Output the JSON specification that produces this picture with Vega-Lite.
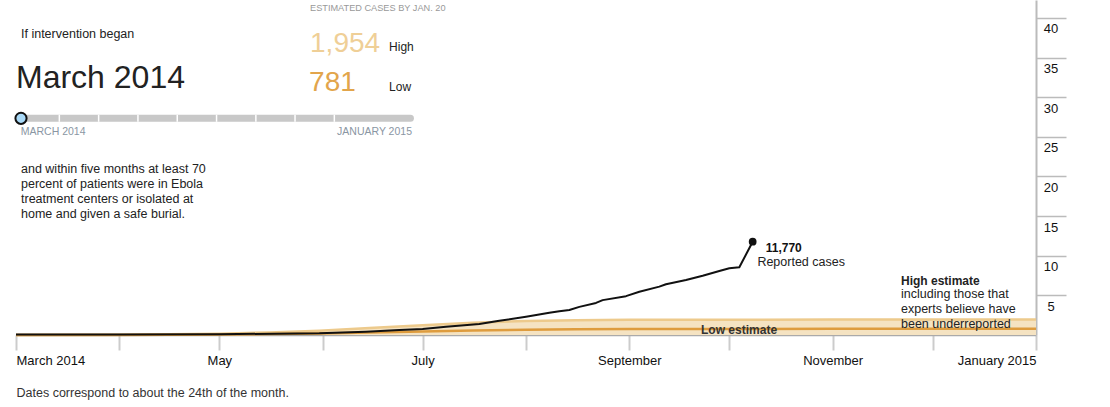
{
  "$schema": "https://vega.github.io/schema/vega-lite/v6.json",
  "width": 1020,
  "height": 335,
  "autosize": {"type": "none"},
  "padding": {"left": 16, "top": 0, "right": 74, "bottom": 72},
  "config": {"view": {"stroke": null}, "font": "Liberation Sans"},
  "data": {"values": [{}]},
  "datasets": {
    "estimates": [
      {"date": "2014-03-24", "high": 0, "low": 0},
      {"date": "2014-04-24", "high": 0.03, "low": 0.01},
      {"date": "2014-05-24", "high": 0.15, "low": 0.05},
      {"date": "2014-06-08", "high": 0.33, "low": 0.12},
      {"date": "2014-06-23", "high": 0.55, "low": 0.2},
      {"date": "2014-07-08", "high": 0.88, "low": 0.32},
      {"date": "2014-07-24", "high": 1.24, "low": 0.44},
      {"date": "2014-08-08", "high": 1.55, "low": 0.57},
      {"date": "2014-08-24", "high": 1.76, "low": 0.66},
      {"date": "2014-09-08", "high": 1.86, "low": 0.72},
      {"date": "2014-09-24", "high": 1.91, "low": 0.75},
      {"date": "2014-10-24", "high": 1.935, "low": 0.77},
      {"date": "2014-11-24", "high": 1.946, "low": 0.777},
      {"date": "2014-12-24", "high": 1.951, "low": 0.78},
      {"date": "2015-01-24", "high": 1.954, "low": 0.781}
    ],
    "reported": [
      {"date": "2014-03-24", "cases": 0.05},
      {"date": "2014-04-24", "cases": 0.07},
      {"date": "2014-05-24", "cases": 0.1},
      {"date": "2014-06-23", "cases": 0.22},
      {"date": "2014-07-07", "cases": 0.42},
      {"date": "2014-07-17", "cases": 0.63},
      {"date": "2014-07-24", "cases": 0.75},
      {"date": "2014-07-31", "cases": 1.05},
      {"date": "2014-08-10", "cases": 1.39},
      {"date": "2014-08-16", "cases": 1.8},
      {"date": "2014-08-24", "cases": 2.3},
      {"date": "2014-08-31", "cases": 2.8},
      {"date": "2014-09-03", "cases": 3.0},
      {"date": "2014-09-06", "cases": 3.15},
      {"date": "2014-09-09", "cases": 3.55},
      {"date": "2014-09-14", "cases": 4.05},
      {"date": "2014-09-16", "cases": 4.4},
      {"date": "2014-09-23", "cases": 4.9},
      {"date": "2014-09-27", "cases": 5.45},
      {"date": "2014-10-03", "cases": 6.1},
      {"date": "2014-10-05", "cases": 6.4},
      {"date": "2014-10-11", "cases": 6.94},
      {"date": "2014-10-16", "cases": 7.48},
      {"date": "2014-10-21", "cases": 8.08},
      {"date": "2014-10-24", "cases": 8.42},
      {"date": "2014-10-27", "cases": 8.54},
      {"date": "2014-10-31", "cases": 11.77}
    ],
    "sliderStops": [
      {"stop": "2014-04-06T00:00:00Z"},
      {"stop": "2014-04-17T19:00:00Z"},
      {"stop": "2014-04-29T14:00:00Z"},
      {"stop": "2014-05-11T09:00:00Z"},
      {"stop": "2014-05-23T04:00:00Z"},
      {"stop": "2014-06-03T23:00:00Z"},
      {"stop": "2014-06-15T17:00:00Z"},
      {"stop": "2014-06-27T12:00:00Z"}
    ]
  },
  "layer": [
    {
      "data": {"name": "estimates"},
      "mark": {"type": "area", "color": "#f5e3c2", "opacity": 1},
      "encoding": {
        "x": {
          "field": "date", "type": "temporal",
          "scale": {"type": "utc", "domain": [{"year": 2014, "month": 3, "date": 24, "utc": true}, {"year": 2015, "month": 1, "date": 24, "utc": true}]},
          "axis": {
            "orient": "bottom",
            "values": [
              {"year": 2014, "month": 3, "date": 24, "utc": true},
              {"year": 2014, "month": 4, "date": 24, "utc": true},
              {"year": 2014, "month": 5, "date": 24, "utc": true},
              {"year": 2014, "month": 6, "date": 24, "utc": true},
              {"year": 2014, "month": 7, "date": 24, "utc": true},
              {"year": 2014, "month": 8, "date": 24, "utc": true},
              {"year": 2014, "month": 9, "date": 24, "utc": true},
              {"year": 2014, "month": 10, "date": 24, "utc": true},
              {"year": 2014, "month": 11, "date": 24, "utc": true},
              {"year": 2014, "month": 12, "date": 24, "utc": true},
              {"year": 2015, "month": 1, "date": 24, "utc": true}
            ],
            "labelExpr": "utcmonth(datum.value) % 2 == 0 ? ((utcmonth(datum.value) == 2 || utcmonth(datum.value) == 0) ? utcFormat(datum.value, '%B %Y') : utcFormat(datum.value, '%B')) : ''",
            "title": "Dates correspond to about the 24th of the month.",
            "titleAnchor": "start", "titleAlign": "left", "titleFontWeight": "normal",
            "titleFontSize": 12.5, "titleColor": "#333333", "titlePadding": 19,
            "grid": false,
            "domainColor": "#aaaaaa", "domainWidth": 1.5,
            "tickColor": "#cccccc", "tickWidth": 2, "tickSize": 15,
            "labelFontSize": 13, "labelColor": "#111111", "labelPadding": 4,
            "labelBaseline": "top", "labelFlush": true, "labelOverlap": false
          }
        },
        "y": {
          "field": "high", "type": "quantitative",
          "scale": {"domain": [0, 42.27], "nice": false, "zero": true},
          "axis": {
            "orient": "right",
            "values": [5, 10, 15, 20, 25, 30, 35, 40],
            "title": null, "grid": false,
            "domainColor": "#bbbbbb", "domainWidth": 2,
            "tickColor": "#bbbbbb", "tickWidth": 1.5, "tickSize": 30,
            "labelAlign": "center", "labelBaseline": "top",
            "labelPadding": -15.5, "labelOffset": 5,
            "labelFontSize": 13, "labelColor": "#111111",
            "labelFlush": false, "labelOverlap": false
          }
        }
      }
    },
    {
      "data": {"name": "estimates"},
      "mark": {"type": "line", "color": "#edca8c", "strokeWidth": 2.5},
      "encoding": {
        "x": {"field": "date", "type": "temporal"},
        "y": {"field": "high", "type": "quantitative"}
      }
    },
    {
      "data": {"name": "estimates"},
      "mark": {"type": "line", "color": "#de9c3e", "strokeWidth": 2.5},
      "encoding": {
        "x": {"field": "date", "type": "temporal"},
        "y": {"field": "low", "type": "quantitative"}
      }
    },
    {
      "data": {"name": "reported"},
      "mark": {"type": "line", "color": "#111111", "strokeWidth": 2, "strokeJoin": "round"},
      "encoding": {
        "x": {"field": "date", "type": "temporal"},
        "y": {"field": "cases", "type": "quantitative"}
      }
    },
    {
      "data": {"name": "reported"},
      "transform": [{"filter": "datum.cases >= 11.77"}],
      "mark": {"type": "point", "filled": true, "color": "#111111", "size": 60, "opacity": 1},
      "encoding": {
        "x": {"field": "date", "type": "temporal"},
        "y": {"field": "cases", "type": "quantitative"}
      }
    },
    {
      "mark": {"type": "rule", "color": "#c8c8c8", "strokeWidth": 7, "strokeCap": "round"},
      "encoding": {
        "x": {"datum": {"year": 2014, "month": 3, "date": 25, "hours": 5, "utc": true}, "type": "temporal"},
        "x2": {"datum": {"year": 2014, "month": 7, "date": 20, "hours": 8, "utc": true}},
        "y": {"datum": 27.34, "type": "quantitative"}
      }
    },
    {
      "data": {"name": "sliderStops"},
      "mark": {"type": "rule", "color": "#ffffff", "strokeWidth": 1.5},
      "encoding": {
        "x": {"field": "stop", "type": "temporal"},
        "y": {"datum": 27.8, "type": "quantitative"},
        "y2": {"datum": 26.9}
      }
    },
    {
      "mark": {"type": "point", "shape": "circle", "filled": true, "fill": "#a9d9f7", "stroke": "#111111", "strokeWidth": 2, "size": 125, "opacity": 1},
      "encoding": {
        "x": {"datum": {"year": 2014, "month": 3, "date": 25, "hours": 12, "utc": true}, "type": "temporal"},
        "y": {"datum": 27.34, "type": "quantitative"}
      }
    },
    {
      "mark": {"type": "text", "text": "ESTIMATED CASES BY JAN. 20", "align": "left", "baseline": "alphabetic", "fontSize": 9.2, "color": "#999999"},
      "encoding": {
        "x": {"datum": {"year": 2014, "month": 6, "date": 20, "hours": 5, "utc": true}, "type": "temporal"},
        "y": {"datum": 40.93, "type": "quantitative"}
      }
    },
    {
      "mark": {"type": "text", "text": "If intervention began", "align": "left", "baseline": "alphabetic", "fontSize": 12.5, "color": "#222222"},
      "encoding": {
        "x": {"datum": {"year": 2014, "month": 3, "date": 25, "hours": 12, "utc": true}, "type": "temporal"},
        "y": {"datum": 37.51, "type": "quantitative"}
      }
    },
    {
      "mark": {"type": "text", "text": "March 2014", "align": "left", "baseline": "alphabetic", "fontSize": 32, "color": "#222222"},
      "encoding": {
        "x": {"datum": {"year": 2014, "month": 3, "date": 24, "utc": true}, "type": "temporal"},
        "y": {"datum": 31.17, "type": "quantitative"}
      }
    },
    {
      "mark": {"type": "text", "text": "1,954", "align": "left", "baseline": "alphabetic", "fontSize": 28, "color": "#efcf97"},
      "encoding": {
        "x": {"datum": {"year": 2014, "month": 6, "date": 20, "hours": 5, "utc": true}, "type": "temporal"},
        "y": {"datum": 35.75, "type": "quantitative"}
      }
    },
    {
      "mark": {"type": "text", "text": "High", "align": "left", "baseline": "alphabetic", "fontSize": 12, "color": "#222222"},
      "encoding": {
        "x": {"datum": {"year": 2014, "month": 7, "date": 13, "hours": 22, "utc": true}, "type": "temporal"},
        "y": {"datum": 35.88, "type": "quantitative"}
      }
    },
    {
      "mark": {"type": "text", "text": "781", "align": "left", "baseline": "alphabetic", "fontSize": 28, "color": "#e2a54b"},
      "encoding": {
        "x": {"datum": {"year": 2014, "month": 6, "date": 19, "hours": 22, "utc": true}, "type": "temporal"},
        "y": {"datum": 30.83, "type": "quantitative"}
      }
    },
    {
      "mark": {"type": "text", "text": "Low", "align": "left", "baseline": "alphabetic", "fontSize": 12, "color": "#222222"},
      "encoding": {
        "x": {"datum": {"year": 2014, "month": 7, "date": 13, "hours": 22, "utc": true}, "type": "temporal"},
        "y": {"datum": 30.83, "type": "quantitative"}
      }
    },
    {
      "mark": {"type": "text", "text": "MARCH 2014", "align": "left", "baseline": "alphabetic", "fontSize": 10.5, "color": "#8a96a3"},
      "encoding": {
        "x": {"datum": {"year": 2014, "month": 3, "date": 25, "hours": 10, "utc": true}, "type": "temporal"},
        "y": {"datum": 25.24, "type": "quantitative"}
      }
    },
    {
      "mark": {"type": "text", "text": "JANUARY 2015", "align": "right", "baseline": "alphabetic", "fontSize": 10.5, "color": "#8a96a3"},
      "encoding": {
        "x": {"datum": {"year": 2014, "month": 7, "date": 20, "hours": 19, "utc": true}, "type": "temporal"},
        "y": {"datum": 25.24, "type": "quantitative"}
      }
    },
    {
      "mark": {"type": "text", "text": ["and within five months at least 70", "percent of patients were in Ebola", "treatment centers or isolated at", "home and given a safe burial."], "align": "left", "baseline": "alphabetic", "fontSize": 12.5, "lineHeight": 15, "color": "#222222"},
      "encoding": {
        "x": {"datum": {"year": 2014, "month": 3, "date": 25, "hours": 12, "utc": true}, "type": "temporal"},
        "y": {"datum": 20.4, "type": "quantitative"}
      }
    },
    {
      "mark": {"type": "text", "text": "11,770", "align": "left", "baseline": "alphabetic", "fontSize": 12, "fontWeight": "bold", "color": "#111111"},
      "encoding": {
        "x": {"datum": {"year": 2014, "month": 11, "date": 3, "hours": 22, "utc": true}, "type": "temporal"},
        "y": {"datum": 10.51, "type": "quantitative"}
      }
    },
    {
      "mark": {"type": "text", "text": "Reported cases", "align": "left", "baseline": "alphabetic", "fontSize": 12.5, "color": "#222222"},
      "encoding": {
        "x": {"datum": {"year": 2014, "month": 11, "date": 1, "hours": 10, "utc": true}, "type": "temporal"},
        "y": {"datum": 8.71, "type": "quantitative"}
      }
    },
    {
      "mark": {"type": "text", "text": "High estimate", "align": "left", "baseline": "alphabetic", "fontSize": 12, "fontWeight": "bold", "color": "#222222"},
      "encoding": {
        "x": {"datum": {"year": 2014, "month": 12, "date": 14, "hours": 12, "utc": true}, "type": "temporal"},
        "y": {"datum": 6.31, "type": "quantitative"}
      }
    },
    {
      "mark": {"type": "text", "text": ["including those that", "experts believe have", "been underreported"], "align": "left", "baseline": "alphabetic", "fontSize": 12.5, "lineHeight": 15, "color": "#222222"},
      "encoding": {
        "x": {"datum": {"year": 2014, "month": 12, "date": 14, "hours": 12, "utc": true}, "type": "temporal"},
        "y": {"datum": 4.63, "type": "quantitative"}
      }
    },
    {
      "mark": {"type": "text", "text": "Low estimate", "align": "center", "baseline": "alphabetic", "fontSize": 12, "fontWeight": "bold", "color": "#333333"},
      "encoding": {
        "x": {"datum": {"year": 2014, "month": 10, "date": 26, "hours": 22, "utc": true}, "type": "temporal"},
        "y": {"datum": 0.13, "type": "quantitative"}
      }
    }
  ]
}
